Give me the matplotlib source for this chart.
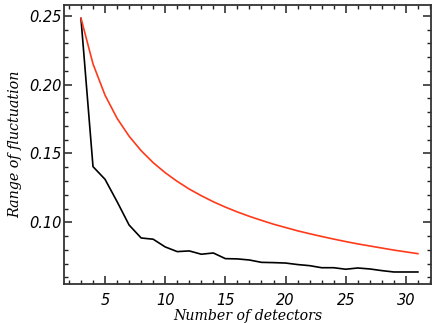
import numpy as np
import matplotlib
matplotlib.use("Agg")
from matplotlib import pyplot as plt

# number of detectors
n_det = [3, 4, 5, 6, 7, 8, 9, 10, 11, 12, 13, 14, 15, 16, 17,
         18, 19, 20, 21, 22, 23, 24, 25, 26, 27, 28, 29, 30, 31]

# measured range of fluctuation (black)
measured = [0.248, 0.1404, 0.1312, 0.115, 0.098, 0.0886, 0.0877, 0.0821,
            0.0787, 0.0792, 0.0768, 0.0777, 0.0736, 0.0734, 0.0726,
            0.0709, 0.0707, 0.0704, 0.0693, 0.0685, 0.0670, 0.0670,
            0.0659, 0.0668, 0.0661, 0.0649, 0.0639, 0.0639, 0.0639]

# expected range (red)
expected = [0.2483, 0.2150, 0.1923, 0.1755, 0.1625, 0.1520, 0.1433, 0.1360,
            0.1297, 0.1241, 0.1193, 0.1149, 0.1110, 0.1075, 0.1043,
            0.1014, 0.0986, 0.0962, 0.0938, 0.0917, 0.0897, 0.0878,
            0.0860, 0.0843, 0.0828, 0.0813, 0.0798, 0.0785, 0.0772]

fig = plt.figure(figsize=(4.32, 3.23), dpi=100)
ax = fig.add_axes([0.149, 0.12, 0.849, 0.8645])

ax.plot(n_det, measured, color="black", linewidth=1.2)
ax.plot(n_det, expected, color="#ff3a1a", linewidth=1.2)

ax.set_xlim(1.62, 32.1)
ax.set_ylim(0.055, 0.2578)

ax.set_xticks([5, 10, 15, 20, 25, 30])
ax.set_xticks(np.arange(2, 33, 1), minor=True)
ax.set_yticks([0.10, 0.15, 0.20, 0.25])
ax.set_yticks(np.arange(0.06, 0.26, 0.01), minor=True)
ax.set_yticklabels(["0.10", "0.15", "0.20", "0.25"])

ax.tick_params(which="both", direction="in", top=True, right=True,
               color="#222222")
ax.tick_params(which="major", length=6, width=1.1)
ax.tick_params(which="minor", length=3, width=1.0)
ax.tick_params(axis="x", pad=6)
ax.tick_params(axis="y", pad=2)

for lab in ax.get_xticklabels() + ax.get_yticklabels():
    lab.set_fontfamily("DejaVu Sans")
    lab.set_fontstyle("oblique")
    lab.set_fontsize(10.5)

for sp in ax.spines.values():
    sp.set_linewidth(1.3)
    sp.set_color("#333333")

ax.set_xlabel("Number of detectors", fontfamily="DejaVu Serif",
              fontstyle="italic", fontsize=10.2, labelpad=1)
ax.set_ylabel("Range of fluctuation", fontfamily="DejaVu Serif",
              fontstyle="italic", fontsize=10.3, labelpad=5)

fig.savefig("out.png", dpi=100)
